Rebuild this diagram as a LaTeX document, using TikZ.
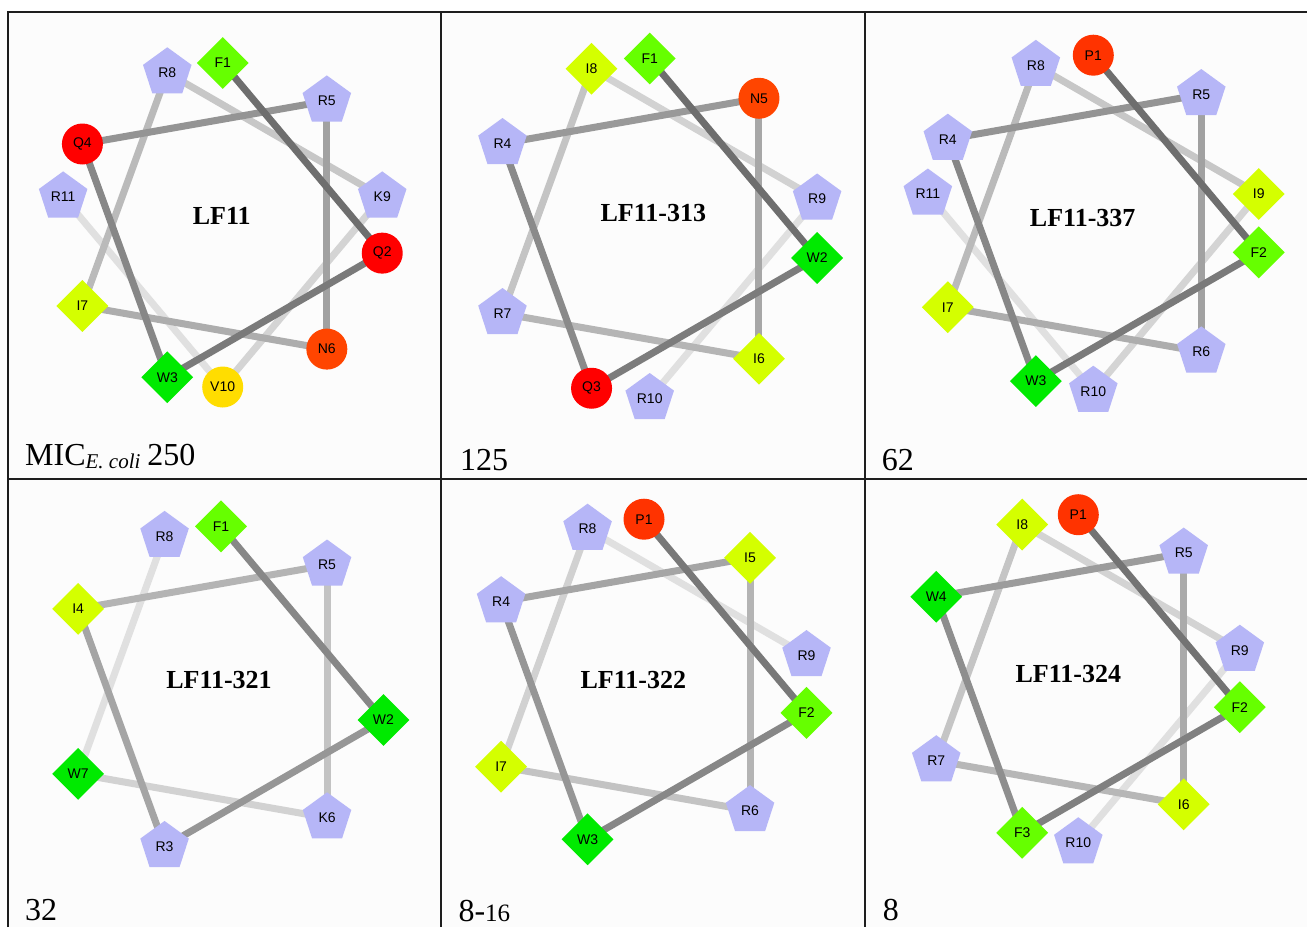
\documentclass[tikz,border=0pt]{standalone}
\usepackage{fontspec}
\setmainfont{Liberation Serif}
\newfontfamily\reslabelfont{Liberation Sans}
\usetikzlibrary{shapes.geometric}
\pgfdeclarelayer{bg}
\pgfdeclarelayer{lines}
\pgfsetlayers{bg,lines,main}

% residue colours
\definecolor{basic}{HTML}{B6B6F7}
\definecolor{phe}{HTML}{66FF00}
\definecolor{trp}{HTML}{00EA00}
\definecolor{ile}{HTML}{D4FF00}
\definecolor{gln}{HTML}{FF0000}
\definecolor{asn}{HTML}{FF4500}
\definecolor{pro}{HTML}{FF3300}
\definecolor{val}{HTML}{FFDD00}
\definecolor{panelbg}{HTML}{FCFCFC}
\definecolor{framecol}{HTML}{1E1E1E}

\tikzset{
  res/.style={inner sep=0pt, text=black, font=\reslabelfont\fontsize{14}{16}\selectfont},
  rb/.style={res, regular polygon, regular polygon sides=5, minimum size=51pt, fill=basic},
  dF/.style={res, diamond, minimum width=52pt, minimum height=52pt, fill=phe},
  dW/.style={res, diamond, minimum width=52pt, minimum height=52pt, fill=trp},
  dI/.style={res, diamond, minimum width=52pt, minimum height=52pt, fill=ile},
  cQ/.style={res, circle, minimum size=41pt, fill=gln},
  cN/.style={res, circle, minimum size=41pt, fill=asn},
  cP/.style={res, circle, minimum size=41pt, fill=pro},
  cV/.style={res, circle, minimum size=41pt, fill=val},
  link/.style={line width=7pt},
  title/.style={inner sep=0pt, font=\bfseries\fontsize{26}{30}\selectfont},
  mic/.style={anchor=base west, inner sep=0pt, font=\fontsize{32}{36}\selectfont},
  framerule/.style={draw=framecol, line width=1.5pt}
}

% helical wheel: #1 prefix, #2 cx, #3 cy, #4 radius, #5 darkest shade, #6 residues
\newcommand{\helixwheel}[6]{%
  \foreach \st/\lb [count=\i] in {#6}{%
    \pgfmathsetmacro\ang{(\i-1)*100}%
    \node[\st] (#1\i) at ({#2+#4*sin(\ang)},{#3-#4*cos(\ang)}) {\lb};
    \xdef\wheeln{\i}%
  }%
  \begin{pgfonlayer}{lines}
    \pgfmathtruncatemacro\nl{\wheeln-1}%
    \foreach \k in {\nl,...,1}{%
      \pgfmathtruncatemacro\kk{\k+1}%
      \pgfmathsetmacro\shade{#5-(#5-12)*(\k-1)/(\nl-1)}%
      \draw[link, draw=black!\shade] (#1\k.center) -- (#1\kk.center);
    }%
  \end{pgfonlayer}%
}

\begin{document}
\begin{tikzpicture}[x=1pt,y=-1pt]
\useasboundingbox (0,0) rectangle (1307,927);

% panel frame
\begin{pgfonlayer}{bg}
  \fill[panelbg] (8,12) rectangle (1307,927);
\end{pgfonlayer}
\coordinate (tl) at (8,12);
\coordinate (tr) at (1307,12);
\coordinate (bl) at (8,927);
\coordinate (ml) at (8,479);
\coordinate (mr) at (1307,479);
\coordinate (v1t) at (441,12);
\coordinate (v1b) at (441,927);
\coordinate (v2t) at (865,12);
\coordinate (v2b) at (865,927);
\draw[framerule] (bl) -- (tl) -- (tr);
\draw[framerule] (ml) -- (mr);
\draw[framerule] (v1t) -- (v1b);
\draw[framerule] (v2t) -- (v2b);

% LF11
\helixwheel{a}{222.7}{225}{162}{57}{dF/F1, cQ/Q2, dW/W3, cQ/Q4, rb/R5, cN/N6, dI/I7, rb/R8, rb/K9, cV/V10, rb/R11}
\node[title] (ta) at (221.7,216) {LF11};
\node[mic] (ma) at (25,465) {MIC\raisebox{-3pt}{\fontsize{21}{24}\selectfont\itshape E.~coli}\hspace{7pt}250};

% LF11-313
\helixwheel{b}{649.7}{228.5}{170}{57}{dF/F1, dW/W2, cQ/Q3, rb/R4, cN/N5, dI/I6, rb/R7, dI/I8, rb/R9, rb/R10}
\node[title] (tb) at (653.3,213.3) {LF11-313};
\node[mic] (mb) at (460,470) {125};

% LF11-337
\helixwheel{c}{1093.3}{223.2}{168}{57}{cP/P1, dF/F2, dW/W3, rb/R4, rb/R5, rb/R6, dI/I7, rb/R8, dI/I9, rb/R10, rb/R11}
\node[title] (tc) at (1082.7,218.3) {LF11-337};
\node[mic] (mc) at (881.7,470) {62};

% LF11-321
\helixwheel{d}{221}{691.4}{165}{47}{dF/F1, dW/W2, rb/R3, dI/I4, rb/R5, rb/K6, dW/W7, rb/R8}
\node[title] (td) at (219,680) {LF11-321};
\node[mic] (md) at (25,920.7) {32};

% LF11-322
\helixwheel{e}{644}{684.2}{165}{53}{cP/P1, dF/F2, dW/W3, rb/R4, dI/I5, rb/R6, dI/I7, rb/R8, rb/R9}
\node[title] (te) at (633.3,680) {LF11-322};
\node[mic] (me) at (458.3,921.7) {8-\fontsize{25}{28}\selectfont 16};

% LF11-324
\helixwheel{f}{1078.3}{678.7}{164}{55}{cP/P1, dF/F2, dF/F3, dW/W4, rb/R5, dI/I6, rb/R7, dI/I8, rb/R9, rb/R10}
\node[title] (tf) at (1068.3,674) {LF11-324};
\node[mic] (mf) at (882.7,920.7) {8};
\end{tikzpicture}
\end{document}
